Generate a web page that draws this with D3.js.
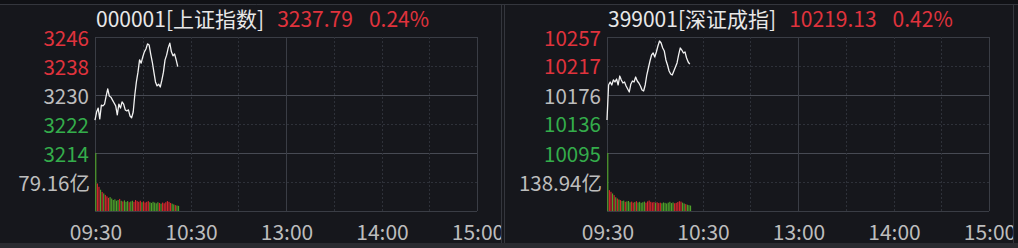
<!DOCTYPE html>
<html>
<head>
<meta charset="utf-8">
<script src="https://cdn.jsdelivr.net/npm/d3@7"></script>
<style>
  html, body { margin: 0; padding: 0; background: #16171c; }
  svg { display: block; font-family: "Noto Sans CJK SC", "Noto Sans", sans-serif; }
</style>
</head>
<body>
<svg id="canvas" width="1018" height="248"></svg>
<script>
// shared time axis (minutes since 09:30, 240 trading minutes)
let timeTicks = [0, 60, 120, 180, 240];
let timeLabels = ['09:30', '10:30', '13:00', '14:00', '15:00'];
let gridMinutes = [0, 30, 60, 90, 120, 150, 180, 210, 240];

// 上证指数
let shTitle = '000001[上证指数]';
let shLast = '3237.79';
let shPct = '0.24%';
let shPrevClose = 3230.04;
let shTicks = [3246, 3238, 3230, 3222, 3214];
let shVolLabel = '79.16亿';
let shVolMax = 158.32;
let shPrice = [3223.1, 3225.3, 3226.4, 3223.4, 3227.2, 3227.0, 3227.5, 3229.7, 3231.7, 3229.7,
  3229.4, 3228.6, 3227.8, 3227.0, 3224.5, 3227.5, 3226.4, 3228.1, 3227.5, 3225.9,
  3225.6, 3225.9, 3224.2, 3223.7, 3225.3, 3230.0, 3233.6, 3236.3, 3239.7, 3238.8,
  3240.5, 3241.9, 3242.7, 3244.1, 3243.8, 3241.3, 3239.1, 3236.3, 3233.6, 3232.5,
  3233.0, 3232.2, 3234.1, 3236.3, 3239.7, 3241.0, 3243.0, 3244.3, 3241.9, 3240.8,
  3241.3, 3239.7, 3237.8];
let shVolume = [158.3, 75, 66, 58, 52, 48, 44, 40, 36, 38,
  34, 30, 32, 28, 30, 33, 28, 26, 29, 25,
  27, 24, 26, 28, 25, 30, 27, 25, 28, 24,
  26, 23, 25, 27, 24, 22, 25, 23, 21, 24,
  22, 20, 23, 21, 24, 27, 25, 22, 20, 18,
  16, 15, 14];

// 深证成指
let szTitle = '399001[深证成指]';
let szLast = '10219.13';
let szPct = '0.42%';
let szPrevClose = 10176.4;
let szTicks = [10257, 10217, 10176, 10136, 10095];
let szVolLabel = '138.94亿';
let szVolMax = 277.88;
let szPrice = [10141.1, 10190.0, 10194.2, 10190.0, 10197.0, 10194.2, 10198.3, 10190.0, 10202.5, 10197.0,
  10192.8, 10194.2, 10188.6, 10184.4, 10180.2, 10191.4, 10195.5, 10194.2, 10201.1, 10195.5,
  10192.8, 10188.6, 10183.0, 10181.6, 10190.0, 10203.9, 10213.7, 10223.5, 10231.9, 10234.7,
  10229.1, 10236.1, 10244.4, 10251.4, 10248.6, 10241.6, 10237.4, 10224.9, 10217.9, 10209.5,
  10205.3, 10203.9, 10209.5, 10215.1, 10220.7, 10231.9, 10241.6, 10238.8, 10234.7, 10236.1,
  10227.7, 10222.1, 10219.1];
let szVolume = [277.9, 100, 92, 84, 76, 66, 60, 55, 52, 48,
  50, 44, 46, 48, 42, 45, 40, 43, 47, 41,
  44, 39, 42, 45, 40, 46, 50, 44, 41, 43,
  39, 42, 38, 40, 37, 41, 39, 36, 40, 44,
  38, 41, 37, 39, 43, 47, 45, 40, 36, 33,
  30, 28, 26];

const RED = '#e0333d', GREEN = '#34ad4b', LABEL = '#bdbdbd';
const BAR_RED = '#d8262d', BAR_GREEN = '#4ea12a';
const FS = 20.5;

let svg = d3.select('#canvas');

// outer frame bits
svg.append('rect').attr('x', 0).attr('y', 0).attr('width', 1018).attr('height', 4).attr('fill', '#101115');
svg.append('rect').attr('x', 0).attr('y', 243).attr('width', 1018).attr('height', 5).attr('fill', '#2a2b30');
svg.append('line').attr('x1', 0).attr('x2', 1018).attr('y1', 4.5).attr('y2', 4.5).attr('stroke', '#34363d');
[501.5, 504.5, 1013.5].forEach(x => {
  svg.append('line').attr('x1', x).attr('x2', x).attr('y1', 4).attr('y2', 243).attr('stroke', '#34363d');
});

function drawPanel(opt) {
  let g = svg.append('g');
  let clipId = 'clip' + opt.left;
  svg.append('clipPath').attr('id', clipId)
    .append('rect').attr('x', opt.clipLeft).attr('y', 0).attr('width', opt.clipRight - opt.clipLeft).attr('height', 243);
  g.attr('clip-path', 'url(#' + clipId + ')');

  let x = d3.scaleLinear().domain([0, 240]).range([opt.left, opt.left + 382]);
  let y = d3.scaleLinear().domain([opt.ticks[4], opt.ticks[0]]).range([153, 37]);
  let yv = d3.scaleLinear().domain([0, opt.volMax]).range([211, 153]);

  // horizontal grid
  let hLines = [
    { y: y(opt.ticks[0]), dash: null, c: '#3a3d45' },
    { y: y(opt.ticks[1]), dash: '2,2', c: '#2e3139' },
    { y: y(opt.ticks[2]), dash: null, c: '#474a53' },
    { y: y(opt.ticks[3]), dash: '2,2', c: '#2e3139' },
    { y: y(opt.ticks[4]), dash: null, c: '#474a53' },
    { y: yv(opt.volMax / 2), dash: '2,2', c: '#2e3139' },
    { y: yv(0), dash: null, c: '#3a3d45' }
  ];
  g.selectAll('.hgrid').data(hLines).enter().append('line')
    .attr('x1', x(0)).attr('x2', x(240))
    .attr('y1', d => Math.round(d.y) + 0.5).attr('y2', d => Math.round(d.y) + 0.5)
    .attr('stroke', d => d.c)
    .attr('stroke-dasharray', d => d.dash);

  // vertical grid
  g.selectAll('.vgrid').data(gridMinutes).enter().append('line')
    .attr('x1', d => Math.round(x(d)) + 0.5).attr('x2', d => Math.round(x(d)) + 0.5)
    .attr('y1', 37).attr('y2', 211)
    .attr('stroke', d => (d % 120 === 0) ? '#3a3d45' : '#2e3139')
    .attr('stroke-dasharray', d => (d % 120 === 0) ? null : '2,2');

  // volume bars
  g.selectAll('.bar').data(opt.volume).enter().append('rect')
    .attr('x', (d, i) => x(i) + 0.2)
    .attr('width', 1.15)
    .attr('y', d => yv(d))
    .attr('height', d => yv(0) - yv(d))
    .attr('fill', (d, i) => {
      let prev = i === 0 ? opt.prevClose : opt.price[i - 1];
      return opt.price[i] >= prev ? BAR_RED : BAR_GREEN;
    });

  // price line
  let line = d3.line().x((d, i) => x(i)).y(d => y(d));
  g.append('path').datum(opt.price)
    .attr('d', line)
    .attr('fill', 'none')
    .attr('stroke', '#f2f2f2')
    .attr('stroke-width', 1.3)
    .attr('stroke-linejoin', 'round');

  // y labels
  let tickColors = [RED, RED, LABEL, GREEN, GREEN];
  g.selectAll('.ylab').data(opt.ticks).enter().append('text')
    .attr('x', opt.left - 6)
    .attr('y', d => y(d) + 8.5)
    .attr('text-anchor', 'end')
    .attr('font-size', FS)
    .attr('fill', (d, i) => tickColors[i])
    .text(d => d);
  g.append('text')
    .attr('x', opt.left - 5)
    .attr('y', yv(opt.volMax / 2) + 8.5)
    .attr('text-anchor', 'end')
    .attr('font-size', FS)
    .attr('fill', LABEL)
    .text(opt.volLabel);

  // x labels
  g.selectAll('.xlab').data(timeTicks).enter().append('text')
    .attr('x', d => x(d) + 1)
    .attr('y', 239.5)
    .attr('text-anchor', 'middle')
    .attr('font-size', 21)
    .attr('fill', LABEL)
    .text((d, i) => timeLabels[i]);

  // title
  let t = g.append('text').attr('x', opt.left + 1).attr('y', 26.5).attr('font-size', 21);
  t.append('tspan').attr('fill', '#e8e8e8').text(opt.title);
  t.append('tspan').attr('fill', RED).attr('dx', 13).text(opt.last);
  t.append('tspan').attr('fill', RED).attr('dx', 16).text(opt.pct);
}

drawPanel({ left: 95, clipLeft: 0, clipRight: 501, title: shTitle, last: shLast, pct: shPct,
  prevClose: shPrevClose, ticks: shTicks, volLabel: shVolLabel, volMax: shVolMax,
  price: shPrice, volume: shVolume });
drawPanel({ left: 607, clipLeft: 505, clipRight: 1013, title: szTitle, last: szLast, pct: szPct,
  prevClose: szPrevClose, ticks: szTicks, volLabel: szVolLabel, volMax: szVolMax,
  price: szPrice, volume: szVolume });
</script>
</body>
</html>
